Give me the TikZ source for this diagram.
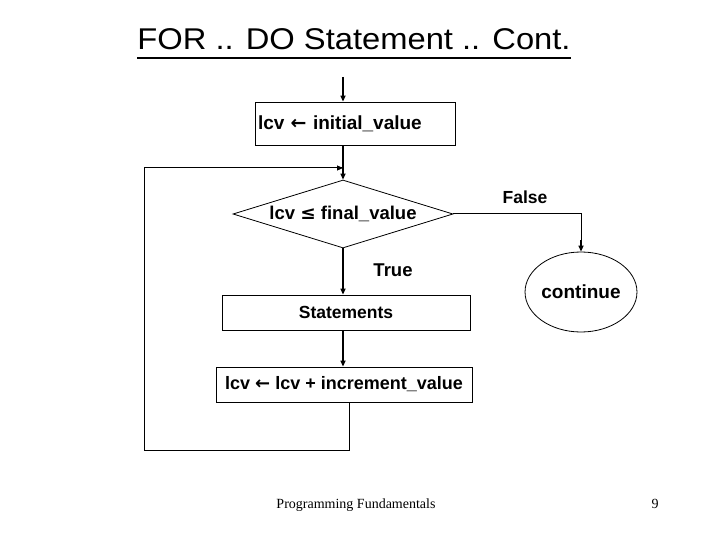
\documentclass[tikz,border=0pt]{standalone}
\usepackage{fontspec}
\usepackage{graphicx}
\setmainfont{Liberation Sans}
\newfontfamily\footfont{Liberation Serif}
\newfontfamily\symfont{DejaVu Sans}
\newcommand{\assignarrow}{{\symfont\bfseries ←}}
\newcommand{\leqsign}{{\symfont\bfseries ≤}}
\usetikzlibrary{arrows.meta,shapes.geometric}
\begin{document}
\begin{tikzpicture}[x=1pt,y=-1pt,
    box/.style={draw,line width=0.8pt,inner sep=0pt},
    flow/.style={-{Triangle[length=6pt,width=5pt]},line width=1.6pt},
    link/.style={line width=1pt},
    lbl/.style={font=\bfseries\fontsize{17.5}{20}\selectfont}]
    \useasboundingbox (0,0) rectangle (720,540);
    % title
    \node[inner sep=0pt,anchor=base,font=\fontsize{30}{34}\selectfont] (title) at (354,50) {\scalebox{1.09}[1]{FOR .. DO Statement .. Cont.}};
    \draw[line width=2.2pt] ([yshift=-8pt]title.base west) -- ([yshift=-8pt]title.base east);
    % flowchart
    \coordinate (start) at (343,77);
    \coordinate (join) at (343,168);
    \coordinate (back) at (144,450);
    \node[box,minimum width=200pt,minimum height=43pt,text width=194pt,align=left,font=\bfseries\fontsize{19}{20}\selectfont] (init) at (355,123.5) {lcv \assignarrow{} initial\_value};
    \node[box,diamond,minimum width=220pt,minimum height=68pt,aspect=3.2,font=\bfseries\fontsize{18.5}{20}\selectfont] (test) at (343,214) {lcv \leqsign{} final\_value};
    \node[box,minimum width=248pt,minimum height=35pt,lbl] (body) at (346,312.5) {Statements};
    \node[box,minimum width=256pt,minimum height=35pt,font=\bfseries\fontsize{18}{20}\selectfont] (step) at (344,384.5) {lcv \assignarrow{} lcv + increment\_value};
    \node[box,ellipse,minimum width=107pt,minimum height=80pt,font=\bfseries\fontsize{19}{20}\selectfont] (cont) at (581,292) {continue};
    \node[lbl] (false) at (525,197) {False};
    \node[lbl,font=\bfseries\fontsize{18.5}{20}\selectfont] (true) at (393,270) {True};
    \draw[flow] (start) -- (start |- init.north);
    \draw[flow] (init.south -| join) -- (test.north);
    \draw[flow] (test.south) -- (test.south |- body.north);
    \draw[flow] (body.south -| test.south) -- (test.south |- step.north);
    \draw[link] ([xshift=5pt]step.south) |- (back) |- (join);
    \draw[link,-{Triangle[length=6pt,width=5pt]}] (join -| back) -- (join);
    \draw[link] (test.east) -| ([yshift=2pt]cont.north);
    \draw[flow] ([yshift=12pt]cont.north) -- (cont.north);
    % footer
    \node[inner sep=0pt,anchor=base,font=\footfont\fontsize{14}{16}\selectfont] (foot) at (356,508) {Programming Fundamentals};
    \node[inner sep=0pt,anchor=base,font=\footfont\fontsize{14}{16}\selectfont] (page) at (655,508) {9};
\end{tikzpicture}
\end{document}
